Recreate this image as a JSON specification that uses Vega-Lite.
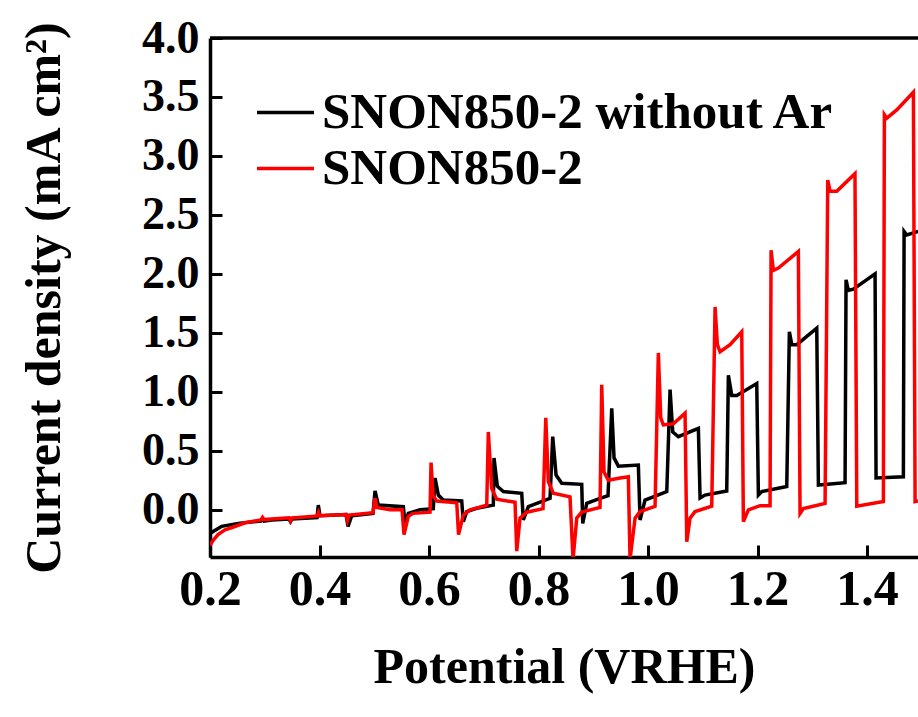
{
"$schema": "https://vega.github.io/schema/vega-lite/v6.json",
"width": 708, "height": 519,
"autosize": {"type": "none"},
"padding": {"left": 210, "top": 38, "right": 0, "bottom": 160},
"background": "white",
"config": {"view": {"stroke": null}, "font": "Liberation Serif"},
"data": {"values": [
{"s":"SNON850-2 without Ar","V":0.2000,"J":-0.20},{"s":"SNON850-2 without Ar","V":0.2214,"J":-0.14},{"s":"SNON850-2 without Ar","V":0.2517,"J":-0.115},{"s":"SNON850-2 without Ar","V":0.2930,"J":-0.095},{"s":"SNON850-2 without Ar","V":0.2959,"J":-0.08},{"s":"SNON850-2 without Ar","V":0.2986,"J":-0.095},{"s":"SNON850-2 without Ar","V":0.3127,"J":-0.086},{"s":"SNON850-2 without Ar","V":0.3443,"J":-0.078},{"s":"SNON850-2 without Ar","V":0.3470,"J":-0.10},{"s":"SNON850-2 without Ar","V":0.3498,"J":-0.077},{"s":"SNON850-2 without Ar","V":0.3735,"J":-0.072},{"s":"SNON850-2 without Ar","V":0.3954,"J":-0.065},{"s":"SNON850-2 without Ar","V":0.3978,"J":0.04},{"s":"SNON850-2 without Ar","V":0.4009,"J":-0.05},{"s":"SNON850-2 without Ar","V":0.4484,"J":-0.04},{"s":"SNON850-2 without Ar","V":0.4521,"J":-0.14},{"s":"SNON850-2 without Ar","V":0.4588,"J":-0.05},{"s":"SNON850-2 without Ar","V":0.4977,"J":-0.03},{"s":"SNON850-2 without Ar","V":0.5014,"J":0.16},{"s":"SNON850-2 without Ar","V":0.5074,"J":0.04},{"s":"SNON850-2 without Ar","V":0.5531,"J":0.027},{"s":"SNON850-2 without Ar","V":0.5562,"J":-0.115},{"s":"SNON850-2 without Ar","V":0.5622,"J":-0.03},{"s":"SNON850-2 without Ar","V":0.5836,"J":0.0},{"s":"SNON850-2 without Ar","V":0.6078,"J":0.01},{"s":"SNON850-2 without Ar","V":0.6110,"J":0.27},{"s":"SNON850-2 without Ar","V":0.6170,"J":0.125},{"s":"SNON850-2 without Ar","V":0.6261,"J":0.083},{"s":"SNON850-2 without Ar","V":0.6597,"J":0.075},{"s":"SNON850-2 without Ar","V":0.6626,"J":-0.10},{"s":"SNON850-2 without Ar","V":0.6689,"J":-0.015},{"s":"SNON850-2 without Ar","V":0.6871,"J":0.013},{"s":"SNON850-2 without Ar","V":0.7174,"J":0.04},{"s":"SNON850-2 without Ar","V":0.7187,"J":0.44},{"s":"SNON850-2 without Ar","V":0.7247,"J":0.20},{"s":"SNON850-2 without Ar","V":0.7357,"J":0.155},{"s":"SNON850-2 without Ar","V":0.7693,"J":0.14},{"s":"SNON850-2 without Ar","V":0.7722,"J":-0.086},{"s":"SNON850-2 without Ar","V":0.7814,"J":0.027},{"s":"SNON850-2 without Ar","V":0.8210,"J":0.097},{"s":"SNON850-2 without Ar","V":0.8259,"J":0.62},{"s":"SNON850-2 without Ar","V":0.8320,"J":0.295},{"s":"SNON850-2 without Ar","V":0.8424,"J":0.225},{"s":"SNON850-2 without Ar","V":0.8789,"J":0.216},{"s":"SNON850-2 without Ar","V":0.8807,"J":-0.115},{"s":"SNON850-2 without Ar","V":0.8880,"J":0.055},{"s":"SNON850-2 without Ar","V":0.9123,"J":0.097},{"s":"SNON850-2 without Ar","V":0.9269,"J":0.12},{"s":"SNON850-2 without Ar","V":0.9337,"J":0.86},{"s":"SNON850-2 without Ar","V":0.9379,"J":0.44},{"s":"SNON850-2 without Ar","V":0.9458,"J":0.37},{"s":"SNON850-2 without Ar","V":0.9823,"J":0.38},{"s":"SNON850-2 without Ar","V":0.9854,"J":-0.086},{"s":"SNON850-2 without Ar","V":0.9945,"J":0.083},{"s":"SNON850-2 without Ar","V":1.0342,"J":0.155},{"s":"SNON850-2 without Ar","V":1.0402,"J":1.02},{"s":"SNON850-2 without Ar","V":1.0451,"J":0.66},{"s":"SNON850-2 without Ar","V":1.0553,"J":0.62},{"s":"SNON850-2 without Ar","V":1.0919,"J":0.69},{"s":"SNON850-2 without Ar","V":1.0950,"J":0.10},{"s":"SNON850-2 without Ar","V":1.1041,"J":0.125},{"s":"SNON850-2 without Ar","V":1.1437,"J":0.16},{"s":"SNON850-2 without Ar","V":1.1467,"J":1.14},{"s":"SNON850-2 without Ar","V":1.1529,"J":0.97},{"s":"SNON850-2 without Ar","V":1.1620,"J":0.97},{"s":"SNON850-2 without Ar","V":1.1985,"J":1.07},{"s":"SNON850-2 without Ar","V":1.2015,"J":0.125},{"s":"SNON850-2 without Ar","V":1.2077,"J":0.155},{"s":"SNON850-2 without Ar","V":1.2533,"J":0.197},{"s":"SNON850-2 without Ar","V":1.2581,"J":1.51},{"s":"SNON850-2 without Ar","V":1.2625,"J":1.40},{"s":"SNON850-2 without Ar","V":1.2716,"J":1.40},{"s":"SNON850-2 without Ar","V":1.3081,"J":1.54},{"s":"SNON850-2 without Ar","V":1.3111,"J":0.21},{"s":"SNON850-2 without Ar","V":1.3598,"J":0.23},{"s":"SNON850-2 without Ar","V":1.3616,"J":1.95},{"s":"SNON850-2 without Ar","V":1.3658,"J":1.86},{"s":"SNON850-2 without Ar","V":1.3750,"J":1.87},{"s":"SNON850-2 without Ar","V":1.4146,"J":2.0},{"s":"SNON850-2 without Ar","V":1.4164,"J":0.27},{"s":"SNON850-2 without Ar","V":1.4663,"J":0.28},{"s":"SNON850-2 without Ar","V":1.4676,"J":2.36},{"s":"SNON850-2 without Ar","V":1.4725,"J":2.33},{"s":"SNON850-2 without Ar","V":1.4932,"J":2.36},
{"s":"SNON850-2","V":0.2000,"J":-0.30},{"s":"SNON850-2","V":0.2055,"J":-0.26},{"s":"SNON850-2","V":0.2146,"J":-0.21},{"s":"SNON850-2","V":0.2274,"J":-0.17},{"s":"SNON850-2","V":0.2402,"J":-0.15},{"s":"SNON850-2","V":0.2639,"J":-0.11},{"s":"SNON850-2","V":0.2822,"J":-0.095},{"s":"SNON850-2","V":0.2932,"J":-0.085},{"s":"SNON850-2","V":0.2959,"J":-0.065},{"s":"SNON850-2","V":0.2986,"J":-0.083},{"s":"SNON850-2","V":0.3187,"J":-0.075},{"s":"SNON850-2","V":0.3443,"J":-0.067},{"s":"SNON850-2","V":0.3470,"J":-0.095},{"s":"SNON850-2","V":0.3498,"J":-0.068},{"s":"SNON850-2","V":0.3735,"J":-0.06},{"s":"SNON850-2","V":0.3954,"J":-0.052},{"s":"SNON850-2","V":0.3982,"J":-0.02},{"s":"SNON850-2","V":0.4009,"J":-0.05},{"s":"SNON850-2","V":0.4484,"J":-0.04},{"s":"SNON850-2","V":0.4511,"J":-0.09},{"s":"SNON850-2","V":0.4539,"J":-0.045},{"s":"SNON850-2","V":0.4977,"J":-0.025},{"s":"SNON850-2","V":0.5014,"J":0.10},{"s":"SNON850-2","V":0.5050,"J":0.02},{"s":"SNON850-2","V":0.5288,"J":0.0},{"s":"SNON850-2","V":0.5507,"J":0.0},{"s":"SNON850-2","V":0.5543,"J":-0.21},{"s":"SNON850-2","V":0.5622,"J":-0.055},{"s":"SNON850-2","V":0.5708,"J":-0.03},{"s":"SNON850-2","V":0.6018,"J":-0.02},{"s":"SNON850-2","V":0.6037,"J":0.40},{"s":"SNON850-2","V":0.6073,"J":0.125},{"s":"SNON850-2","V":0.6141,"J":0.075},{"s":"SNON850-2","V":0.6506,"J":0.06},{"s":"SNON850-2","V":0.6539,"J":-0.21},{"s":"SNON850-2","V":0.6626,"J":-0.045},{"s":"SNON850-2","V":0.6749,"J":0.0},{"s":"SNON850-2","V":0.7054,"J":0.04},{"s":"SNON850-2","V":0.7083,"J":0.66},{"s":"SNON850-2","V":0.7145,"J":0.18},{"s":"SNON850-2","V":0.7237,"J":0.09},{"s":"SNON850-2","V":0.7571,"J":0.064},{"s":"SNON850-2","V":0.7602,"J":-0.35},{"s":"SNON850-2","V":0.7662,"J":-0.07},{"s":"SNON850-2","V":0.7784,"J":-0.02},{"s":"SNON850-2","V":0.8082,"J":0.01},{"s":"SNON850-2","V":0.8132,"J":0.78},{"s":"SNON850-2","V":0.8179,"J":0.24},{"s":"SNON850-2","V":0.8270,"J":0.14},{"s":"SNON850-2","V":0.8575,"J":0.11},{"s":"SNON850-2","V":0.8630,"J":-0.42},{"s":"SNON850-2","V":0.8698,"J":-0.07},{"s":"SNON850-2","V":0.8789,"J":-0.02},{"s":"SNON850-2","V":0.9123,"J":0.02},{"s":"SNON850-2","V":0.9154,"J":1.06},{"s":"SNON850-2","V":0.9196,"J":0.32},{"s":"SNON850-2","V":0.9275,"J":0.25},{"s":"SNON850-2","V":0.9489,"J":0.27},{"s":"SNON850-2","V":0.9640,"J":0.28},{"s":"SNON850-2","V":0.9671,"J":-0.42},{"s":"SNON850-2","V":0.9763,"J":-0.07},{"s":"SNON850-2","V":0.9854,"J":-0.015},{"s":"SNON850-2","V":1.0128,"J":0.03},{"s":"SNON850-2","V":1.0188,"J":1.33},{"s":"SNON850-2","V":1.0232,"J":0.78},{"s":"SNON850-2","V":1.0279,"J":0.72},{"s":"SNON850-2","V":1.0462,"J":0.73},{"s":"SNON850-2","V":1.0676,"J":0.82},{"s":"SNON850-2","V":1.0707,"J":-0.27},{"s":"SNON850-2","V":1.0767,"J":-0.07},{"s":"SNON850-2","V":1.0858,"J":-0.015},{"s":"SNON850-2","V":1.1163,"J":0.03},{"s":"SNON850-2","V":1.1224,"J":1.72},{"s":"SNON850-2","V":1.1266,"J":1.40},{"s":"SNON850-2","V":1.1315,"J":1.34},{"s":"SNON850-2","V":1.1498,"J":1.40},{"s":"SNON850-2","V":1.1711,"J":1.51},{"s":"SNON850-2","V":1.1741,"J":-0.10},{"s":"SNON850-2","V":1.1832,"J":0.0},{"s":"SNON850-2","V":1.2046,"J":0.035},{"s":"SNON850-2","V":1.2228,"J":0.035},{"s":"SNON850-2","V":1.2247,"J":2.20},{"s":"SNON850-2","V":1.2289,"J":2.03},{"s":"SNON850-2","V":1.2380,"J":2.05},{"s":"SNON850-2","V":1.2745,"J":2.19},{"s":"SNON850-2","V":1.2776,"J":-0.03},{"s":"SNON850-2","V":1.2836,"J":0.01},{"s":"SNON850-2","V":1.3233,"J":0.055},{"s":"SNON850-2","V":1.3282,"J":2.795},{"s":"SNON850-2","V":1.3324,"J":2.70},{"s":"SNON850-2","V":1.3446,"J":2.70},{"s":"SNON850-2","V":1.3779,"J":2.85},{"s":"SNON850-2","V":1.3812,"J":0.03},{"s":"SNON850-2","V":1.4298,"J":0.07},{"s":"SNON850-2","V":1.4316,"J":3.35},{"s":"SNON850-2","V":1.4360,"J":3.32},{"s":"SNON850-2","V":1.4542,"J":3.39},{"s":"SNON850-2","V":1.4846,"J":3.54},{"s":"SNON850-2","V":1.4877,"J":0.07},{"s":"SNON850-2","V":1.4932,"J":0.075}
]},
"layer": [
{"data": {"values": [{}]}, "mark": {"type": "rule", "color": "black", "strokeWidth": 3.5}, "encoding": {"y": {"datum": 4}}},
{"mark": {"type": "line", "strokeWidth": 3.5, "clip": true},
 "encoding": {
  "x": {"field": "V", "type": "quantitative", "scale": {"domain": [0.2, 1.493], "nice": false, "zero": false},
        "axis": {"values": [0.2, 0.4, 0.6, 0.8, 1.0, 1.2, 1.4], "format": ".1f", "title": "Potential (VRHE)", "grid": false,
                 "labelFont": "Liberation Serif", "labelFontWeight": "bold", "labelFontSize": 50, "labelColor": "black",
                 "labelFlush": false, "labelOverlap": false, "labelPadding": 19,
                 "tickSize": -12, "tickWidth": 3, "tickColor": "black", "domainColor": "black", "domainWidth": 3.5,
                 "titleFont": "Liberation Serif", "titleFontWeight": "bold", "titleFontSize": 50, "titleColor": "black", "titlePadding": 28}},
  "y": {"field": "J", "type": "quantitative", "scale": {"domain": [-0.4, 4.0], "nice": false, "zero": false},
        "axis": {"values": [0, 0.5, 1.0, 1.5, 2.0, 2.5, 3.0, 3.5, 4.0], "format": ".1f", "title": "Current density (mA cm²)", "grid": false,
                 "labelFont": "Liberation Serif", "labelFontWeight": "bold", "labelFontSize": 46, "labelColor": "black",
                 "labelFlush": false, "labelOverlap": false, "labelPadding": 23,
                 "tickSize": -12, "tickWidth": 3, "tickColor": "black", "domainColor": "black", "domainWidth": 3.5,
                 "titleFont": "Liberation Serif", "titleFontWeight": "bold", "titleFontSize": 50, "titleColor": "black", "titlePadding": 72}},
  "color": {"field": "s", "type": "nominal",
            "scale": {"domain": ["SNON850-2 without Ar", "SNON850-2"], "range": ["#000000", "#ff0000"]},
            "legend": {"orient": "none", "legendX": 45, "legendY": 44, "title": null, "padding": 0,
                       "symbolType": "stroke", "symbolSize": 3249, "symbolStrokeWidth": 3.5,
                       "labelFont": "Liberation Serif", "labelFontSize": 51, "labelFontWeight": "bold", "labelColor": "black",
                       "labelOffset": 6, "rowPadding": -2, "labelLimit": 1000}}
 }}
]
}
